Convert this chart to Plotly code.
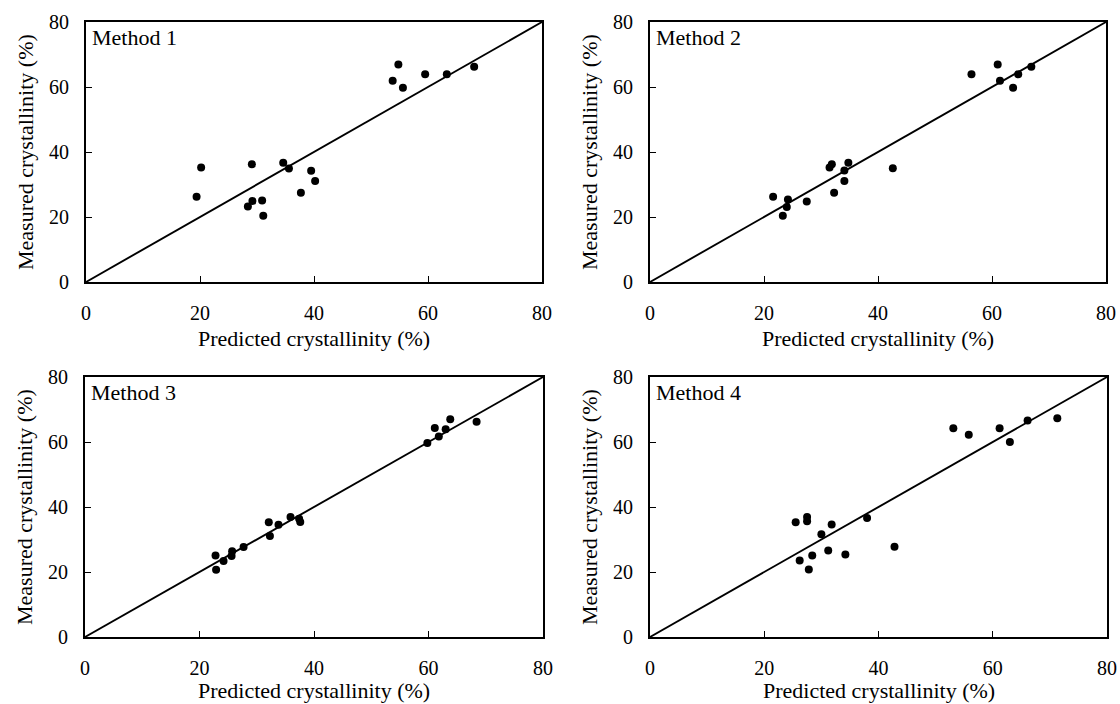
import plotly.graph_objects as go

# ---- data ----
panel_names = ["Method 1", "Method 2", "Method 3", "Method 4"]

m1_pred = [19.4, 20.2, 29.1, 28.4, 29.2, 30.9, 31.1, 34.6, 35.6, 37.7, 39.5, 40.2,
           53.8, 54.8, 55.6, 59.5, 63.3, 68.1]
m1_meas = [26.2, 35.2, 36.2, 23.2, 24.9, 25.1, 20.4, 36.7, 34.9, 27.5, 34.2, 31.1,
           61.9, 66.9, 59.8, 63.9, 63.9, 66.2]

m2_pred = [21.6, 23.3, 24.0, 24.2, 27.5, 31.5, 31.9, 32.3, 34.1, 34.1, 34.8, 42.6,
           56.4, 61.0, 61.4, 63.7, 64.6, 66.9]
m2_meas = [26.2, 20.4, 23.1, 25.4, 24.8, 35.2, 36.2, 27.5, 34.3, 31.1, 36.7, 35.0,
           63.9, 66.9, 61.9, 59.8, 63.9, 66.2]

m3_pred = [22.8, 22.9, 24.2, 25.7, 25.6, 27.7, 32.1, 32.3, 33.8, 35.9, 37.4, 37.6,
           59.8, 61.1, 61.8, 63.0, 63.8, 68.4]
m3_meas = [25.1, 20.7, 23.4, 26.4, 24.9, 27.7, 35.3, 31.1, 34.5, 36.9, 36.4, 35.4,
           59.7, 64.3, 61.7, 63.9, 67.0, 66.2]

m4_pred = [25.5, 26.2, 27.5, 27.5, 27.8, 28.4, 30.0, 31.2, 31.8, 34.2, 38.0, 42.8,
           53.1, 55.8, 61.2, 63.0, 66.1, 71.3]
m4_meas = [35.3, 23.5, 36.9, 35.6, 20.8, 25.1, 31.6, 26.6, 34.6, 25.4, 36.6, 27.8,
           64.2, 62.2, 64.2, 60.0, 66.6, 67.3]

line_x = [0, 80]
line_y = [0, 80]
tick_vals = [0, 20, 40, 60, 80]
tick_text = ["0", "20", "40", "60", "80"]
x_title = "Predicted crystallinity (%)"
y_title = "Measured crystallinity (%)"

preds = [m1_pred, m2_pred, m3_pred, m4_pred]
meas = [m1_meas, m2_meas, m3_meas, m4_meas]

W, H = 1120, 704
FONT = "Liberation Serif, Times New Roman, serif"

# panel pixel boxes (left, right, top, bottom) and x-title offset below the axis
boxes = [(86, 542, 22, 282), (650, 1106, 22, 282),
         (85, 543, 377, 637), (650, 1107, 377, 637)]
title_gap = [56, 56, 53, 53]

fig = go.Figure()
layout = dict(
    width=W, height=H,
    margin=dict(l=0, r=0, t=0, b=0, pad=0, autoexpand=False),
    paper_bgcolor="white", plot_bgcolor="white",
    showlegend=False,
    font=dict(family=FONT, color="black", size=20),
)
annotations = []

for i in range(4):
    n = "" if i == 0 else str(i + 1)
    xa, ya = "x" + n, "y" + n
    L, R, T, B = boxes[i]
    fig.add_trace(go.Scatter(x=line_x, y=line_y, mode="lines",
                             line=dict(color="black", width=1.9),
                             xaxis=xa, yaxis=ya, hoverinfo="skip"))
    fig.add_trace(go.Scatter(x=preds[i], y=meas[i], mode="markers",
                             marker=dict(color="black", size=8),
                             xaxis=xa, yaxis=ya))
    common = dict(range=[0, 80], tickvals=tick_vals, ticktext=tick_text,
                  ticks="inside", ticklen=6, tickwidth=1.2, tickcolor="black",
                  showline=True, linecolor="black", linewidth=1.8, mirror=True,
                  showgrid=False, zeroline=False, automargin=False,
                  tickfont=dict(family=FONT, size=20, color="black"))
    layout["xaxis" + n] = dict(domain=[L / W, R / W], anchor=ya,
                               ticklabelstandoff=12, **common)
    layout["yaxis" + n] = dict(domain=[1 - B / H, 1 - T / H], anchor=xa,
                               ticklabelstandoff=11, **common)
    # panel label
    annotations.append(dict(text=panel_names[i], xref=xa + " domain", yref=ya + " domain",
                            x=0.008, y=1 - 15.5 / (B - T), xanchor="left", yanchor="middle",
                            showarrow=False, font=dict(family=FONT, size=22, color="black")))
    # axis titles
    annotations.append(dict(text=x_title, xref="paper", yref="paper",
                            x=(L + R) / 2 / W, y=1 - (B + title_gap[i]) / H,
                            xanchor="center", yanchor="middle", showarrow=False,
                            font=dict(family=FONT, size=22, color="black")))
    annotations.append(dict(text=y_title, xref="paper", yref="paper",
                            x=(L - 61) / W, y=1 - (T + B) / 2 / H, textangle=-90,
                            xanchor="center", yanchor="middle", showarrow=False,
                            font=dict(family=FONT, size=22, color="black")))

layout["annotations"] = annotations
fig.update_layout(**layout)
fig.write_html("out.html",
               config={"displayModeBar": False},
               post_script="document.body.style.margin='0';document.body.style.overflow='hidden';")
